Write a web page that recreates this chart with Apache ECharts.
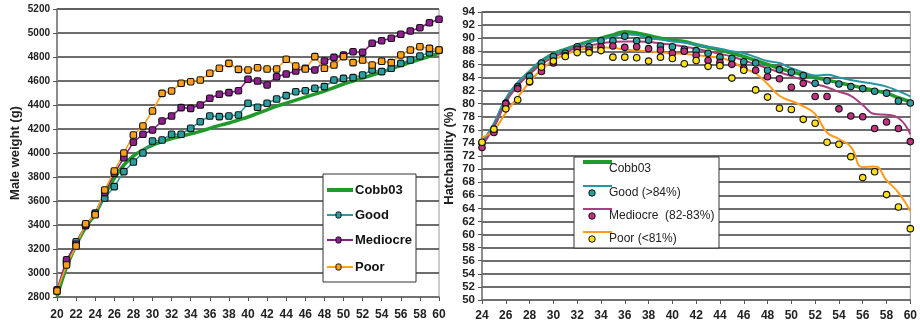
<!DOCTYPE html>
<html><head><meta charset="utf-8">
<script src="https://cdn.jsdelivr.net/npm/echarts@6/dist/echarts.min.js"></script>
<style>html,body{margin:0;padding:0;background:#fff}#c{width:920px;height:326px}</style>
</head><body><div id="c"></div>
<script>
// ---------- Left chart: Male weight (g) by age (weeks) ----------
const ageL = [20,21,22,23,24,25,26,27,28,29,30,31,32,33,34,35,36,37,38,39,40,41,42,43,44,45,46,47,48,49,50,51,52,53,54,55,56,57,58,59,60];
const cobbL = [2800,3050,3230,3380,3490,3650,3790,3900,3975,4025,4065,4095,4120,4140,4160,4180,4205,4230,4250,4275,4300,4330,4360,4390,4415,4440,4465,4490,4515,4545,4575,4600,4625,4650,4675,4700,4730,4755,4780,4805,4830];
const goodL = [2850,3090,3260,3395,3500,3625,3720,3845,3925,4000,4100,4108,4156,4156,4206,4261,4308,4303,4308,4317,4414,4381,4414,4450,4478,4511,4519,4539,4553,4608,4622,4628,4650,4692,4678,4706,4747,4775,4808,4836,4858];
const medL  = [2860,3110,3240,3400,3490,3670,3830,3960,4090,4156,4192,4267,4308,4378,4372,4400,4456,4489,4503,4519,4614,4600,4567,4636,4658,4683,4706,4692,4767,4797,4817,4844,4839,4914,4936,4956,4989,5017,5044,5086,5114];
const poorL = [2850,3067,3225,3410,3485,3692,3850,4000,4150,4225,4350,4497,4517,4581,4594,4608,4664,4706,4747,4697,4692,4711,4700,4700,4781,4725,4700,4803,4706,4733,4803,4753,4775,4733,4764,4753,4817,4858,4886,4872,4858];
const namesL = ['Cobb03','Good','Mediocre','Poor'];

// ---------- Right chart: Hatchability (%) by age (weeks) ----------
const ageR = [24,25,26,27,28,29,30,31,32,33,34,35,36,37,38,39,40,41,42,43,44,45,46,47,48,49,50,51,52,53,54,55,56,57,58,59,60];
const cobbLineR = [74.0,76.6,80.5,83.0,84.8,86.5,87.6,88.3,88.9,89.5,90.0,90.5,91.0,90.8,90.4,90.0,89.7,89.5,89.0,88.6,88.2,87.7,87.2,86.6,86.0,85.4,84.9,84.4,84.0,83.6,83.2,82.8,82.4,82.0,81.6,80.9,80.3];
const goodLineR = [74.0,77.0,80.8,83.2,85.0,86.6,87.6,88.3,88.9,89.4,89.8,90.2,90.6,90.5,90.0,89.8,89.5,89.3,89.0,88.7,88.4,88.0,87.7,87.1,86.5,86.2,85.4,84.8,84.3,84.4,84.0,83.6,83.3,83.0,82.6,81.9,81.1];
const medLineR  = [73.5,76.5,80.2,82.7,84.5,86.0,87.1,87.9,88.5,88.9,89.2,89.4,89.5,89.5,89.4,89.2,89.0,88.7,88.4,88.0,87.6,87.2,86.6,86.0,85.4,84.8,84.2,83.6,83.0,82.5,81.8,81.2,79.8,78.4,78.3,77.8,75.3];
const poorLineR = [74.8,76.0,78.6,81.0,83.3,85.2,86.6,87.5,88.1,88.5,88.6,88.5,88.3,88.1,88.0,87.8,87.7,87.6,87.4,87.2,87.0,86.4,85.4,84.6,83.0,81.2,80.4,79.6,78.4,75.6,74.6,73.4,70.3,70.4,68.3,66.4,63.6];
const goodPtsR  = [74.0,75.8,80.1,82.6,84.2,86.2,87.2,87.7,88.7,88.7,89.6,89.6,90.3,89.6,89.7,88.8,88.7,88.3,88.1,87.7,87.1,86.9,86.4,86.2,85.1,85.2,84.8,84.3,83.1,83.5,83.0,82.6,82.3,81.9,81.6,80.4,80.1];
const medPtsR   = [73.3,75.6,80.0,82.3,83.3,84.9,86.2,87.3,88.3,88.2,88.7,88.8,88.6,88.7,88.4,88.2,87.7,88.0,87.4,86.6,86.3,86.0,85.4,85.1,84.1,83.8,82.5,83.1,81.1,81.1,79.2,78.1,78.0,76.2,77.2,76.2,74.2];
const poorPtsR  = [74.1,76.1,79.2,80.6,83.4,85.6,86.5,87.2,87.8,87.8,88.1,87.1,87.1,87.0,86.5,87.1,86.9,86.1,86.6,85.7,85.8,83.9,85.1,82.1,81.0,79.3,79.1,77.6,77.0,74.1,73.8,71.9,68.7,69.6,66.1,64.2,60.9];
const legendR = ['Cobb03','Good (>84%)','Mediocre  (82-83%)','Poor (<81%)'];

const pairs = (xs, ys) => xs.map((x, i) => [x, ys[i]]);
const FONT = 'Liberation Sans, Arial, sans-serif';
const C = {green:'#1f9b2b', teal:'#2b9d9f', purple:'#8e1f8e', orange:'#ff9f1a',
           tealR:'#2a93a3', medLine:'#a8407f', medPt:'#c2307f', poorLine:'#ff9a1a', poorPt:'#ffe01a'};

const chart = echarts.init(document.getElementById('c'), null, {renderer:'canvas'});

function yAxisBase(min, max, interval, fs, name, gap) {
  return {
    type:'value', min, max, interval,
    name, nameLocation:'middle', nameRotate:90, nameGap:gap,
    nameTextStyle:{fontFamily:FONT, fontWeight:'bold', fontSize:13, color:'#222'},
    axisLine:{show:true, lineStyle:{color:'#777', width:1.5}},
    axisTick:{show:true, length:4, lineStyle:{color:'#555'}},
    axisLabel:{fontFamily:FONT, fontWeight:'bold', fontSize:fs, color:'#222', margin:7, formatter: v => String(v)},
    splitLine:{show:true, lineStyle:{color:'#3c3c3c', width:1.5}}
  };
}
function xAxisBase(min, max, margin) {
  return {
    type:'value', min, max, interval:2,
    axisLine:{show:true, onZero:false, lineStyle:{color:'#777', width:1.5}},
    axisTick:{show:true, length:4, lineStyle:{color:'#555'}},
    axisLabel:{fontFamily:FONT, fontWeight:'bold', fontSize:12, color:'#222', margin, formatter: v => String(v)},
    splitLine:{show:false}
  };
}

const lineL = (name, data, color, sym) => ({
  name, type:'line', xAxisIndex:0, yAxisIndex:0, data,
  symbol: sym ? 'roundRect' : 'none', symbolSize:6.5, showSymbol:!!sym,
  smooth: sym ? false : 0.4,
  lineStyle:{color, width: sym ? 1.6 : 3.5},
  itemStyle:{color, borderColor:'#111', borderWidth:1.1},
  emphasis:{disabled:true}, animation:false
});
const lineR = (name, data, color, w) => ({
  name, type:'line', xAxisIndex:1, yAxisIndex:1, data, symbol:'none', smooth:0.5,
  lineStyle:{color, width:w}, itemStyle:{color}, emphasis:{disabled:true}, animation:false, z:2
});
const ptsR = (name, data, color) => ({
  name, type:'scatter', xAxisIndex:1, yAxisIndex:1, data, symbol:'circle', symbolSize:6.5,
  itemStyle:{color, borderColor:'#111', borderWidth:1.1, opacity:1}, emphasis:{disabled:true}, animation:false, z:4
});

const lg = [];
// left legend box
lg.push({type:'rect', shape:{x:323, y:174, width:93, height:108}, style:{fill:'#fff', stroke:'#333', lineWidth:1}, z:100});
const rowsL = [
  {c:C.green, w:4, y:190, pt:false},
  {c:C.teal, w:2, y:215, pt:true},
  {c:C.purple, w:2, y:240, pt:true},
  {c:C.orange, w:2, y:267, pt:true}
];
rowsL.forEach((r, i) => {
  lg.push({type:'line', shape:{x1:327, y1:r.y, x2:353, y2:r.y}, style:{stroke:r.c, lineWidth:r.w}, z:101});
  if (r.pt) lg.push({type:'rect', shape:{x:336, y:r.y-3, width:5, height:6, r:1.5}, style:{fill:r.c, stroke:'#111', lineWidth:1}, z:102});
  lg.push({type:'text', x:355, y:r.y, style:{text:namesL[i], font:'bold 13px ' + FONT, fill:'#111', textVerticalAlign:'middle'}, z:101});
});
// right legend box (line sample above, marker below, as in the original)
lg.push({type:'rect', shape:{x:574, y:157, width:145, height:91}, style:{fill:'#fff', stroke:'#333', lineWidth:1}, z:100});
const rowsR = [
  {line:C.green, w:4, ly:162, ty:169, pt:null},
  {line:C.tealR, w:2, ly:186, ty:193, pt:C.teal},
  {line:C.medLine, w:2, ly:209, ty:216, pt:C.medPt},
  {line:C.poorLine, w:2, ly:232, ty:239, pt:C.poorPt}
];
rowsR.forEach((r, i) => {
  lg.push({type:'line', shape:{x1:583, y1:r.ly, x2:612, y2:r.ly}, style:{stroke:r.line, lineWidth:r.w}, z:101});
  if (r.pt) lg.push({type:'circle', shape:{cx:592, cy:r.ty, r:3.2}, style:{fill:r.pt, stroke:'#111', lineWidth:1}, z:101});
  lg.push({type:'text', x:609, y:r.ty, style:{text:legendR[i], font:'12px ' + FONT, fill:'#222', textVerticalAlign:'middle'}, z:101});
});

chart.setOption({
  backgroundColor:'#fff',
  animation:false,
  grid:[
    {left:57, top:9, width:382, height:288, show:true, borderColor:'#999', borderWidth:1, backgroundColor:'transparent'},
    {left:482, top:12, width:430, height:288, show:true, borderColor:'#999', borderWidth:1, backgroundColor:'transparent'}
  ],
  xAxis:[ Object.assign(xAxisBase(20,60,12), {gridIndex:0}), Object.assign(xAxisBase(24,60,10), {gridIndex:1}) ],
  yAxis:[ Object.assign(yAxisBase(2800,5200,200,10,'Male weight (g)',35), {gridIndex:0}),
          Object.assign(yAxisBase(50,94,2,11.5,'Hatchability (%)',26), {gridIndex:1}) ],
  graphic: lg,
  series:[
    lineL(namesL[0], pairs(ageL, cobbL), C.green, false),
    lineL(namesL[1], pairs(ageL, goodL), C.teal, true),
    lineL(namesL[2], pairs(ageL, medL), C.purple, true),
    lineL(namesL[3], pairs(ageL, poorL), C.orange, true),
    lineR('Cobb03 std', pairs(ageR, cobbLineR), C.green, 3.5),
    lineR('Good trend', pairs(ageR, goodLineR), C.tealR, 2),
    lineR('Mediocre trend', pairs(ageR, medLineR), C.medLine, 2),
    lineR('Poor trend', pairs(ageR, poorLineR), C.poorLine, 2),
    ptsR(legendR[1], pairs(ageR, goodPtsR), C.teal),
    ptsR(legendR[2], pairs(ageR, medPtsR), C.medPt),
    ptsR(legendR[3], pairs(ageR, poorPtsR), C.poorPt)
  ]
});
</script></body></html>
